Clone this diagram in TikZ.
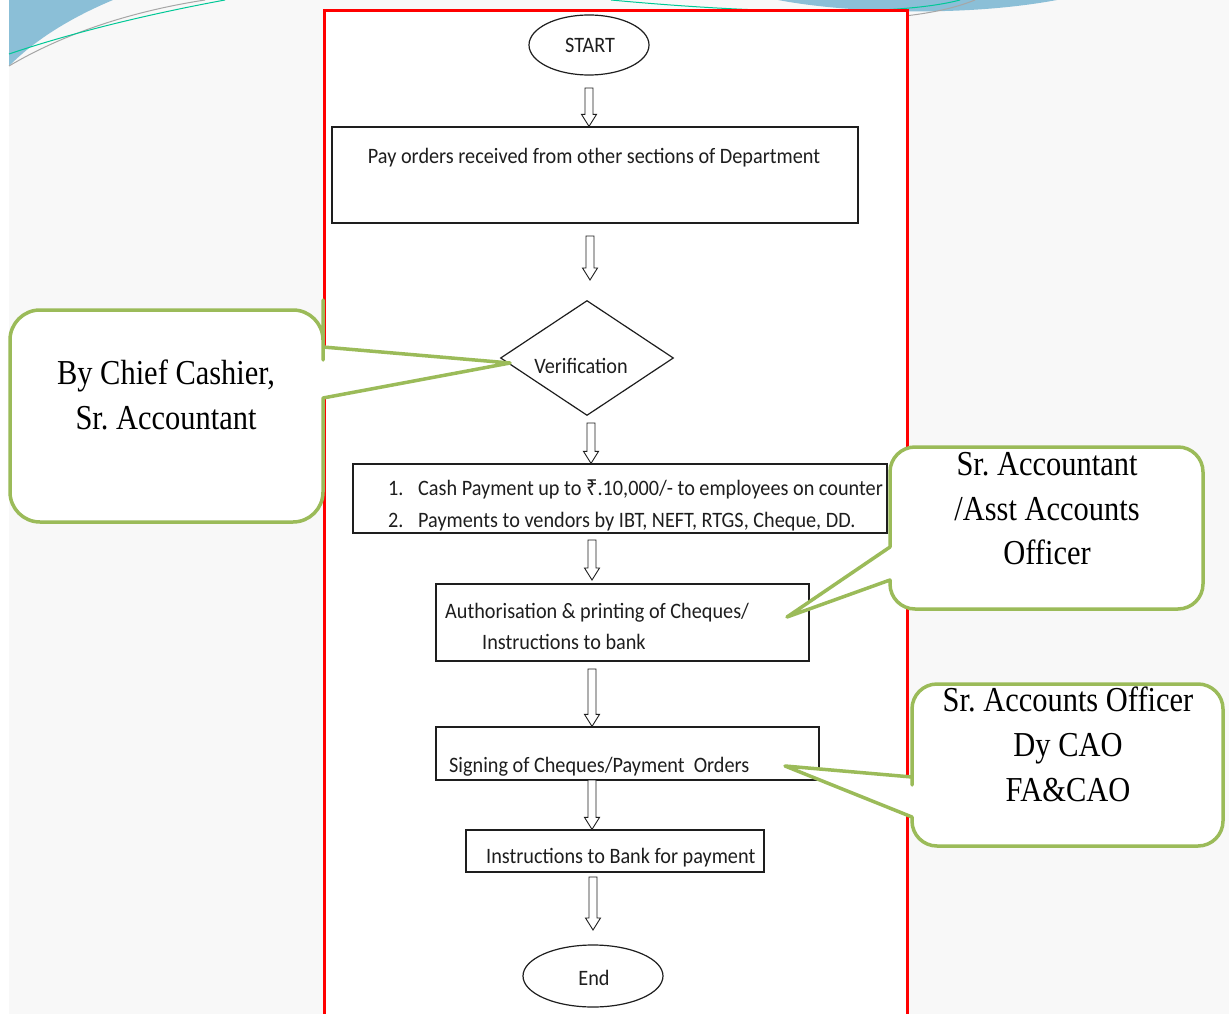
\documentclass[tikz,border=0pt]{standalone}
\usepackage{fontspec}
\setmainfont[FakeStretch=0.92]{Carlito}
\newfontfamily\calfont[FakeStretch=0.87]{Liberation Serif}
\newfontfamily\rupfont[FakeStretch=0.92]{Noto Sans}
\usetikzlibrary{shapes.geometric,calc}
\definecolor{bgray}{RGB}{248,248,248}
\definecolor{decoblue}{RGB}{139,191,215}
\definecolor{decogreen}{RGB}{0,200,150}
\definecolor{callgreen}{RGB}{155,187,89}
\definecolor{ink}{RGB}{30,30,30}
\newcommand\blockarr[2]{\path[blockarrow] let \p1=(#1), \p2=(#2) in
  (\x1-4pt,\y1) -- (\x1+4pt,\y1) -- (\x1+4pt,\y2+12pt) -- (\x1+7.5pt,\y2+12pt)
  -- (\x1,\y2) -- (\x1-7.5pt,\y2+12pt) -- (\x1-4pt,\y2+12pt) -- cycle;}
\frenchspacing
\begin{document}
\begin{tikzpicture}[x=1pt,y=-1pt,
  flow/.style={draw=ink, line width=1.2pt, fill=white},
  ftext/.style={font=\fontsize{22}{26}\selectfont, text=ink, inner sep=0pt},
  ctext/.style={font=\calfont\fontsize{35}{45}\selectfont, text=black, inner sep=0pt, anchor=base},
  callout/.style={draw=callgreen, line width=3.5pt, fill=white, line join=round},
  blockarrow/.style={draw=ink, line width=0.9pt, fill=white},
]
\useasboundingbox (0,0) rectangle (1229,1014);
\fill[bgray] (0,0) rectangle (1229,1014);
\fill[white] (0,0) rectangle (9,1014);
% decoration
\fill[decoblue] (9,0) -- (9,66) .. controls (35,40) and (70,18) .. (113,0) -- cycle;
\draw[gray!70, line width=1pt] (9,66) .. controls (70,30) and (140,10) .. (205,0);
\draw[decogreen, line width=1pt] (9,54) .. controls (80,30) and (160,12) .. (225,0);
\fill[decoblue] (778,0) .. controls (840,12) and (960,18) .. (1057,0) -- cycle;
\draw[decogreen, line width=1pt] (611,0) .. controls (760,14) and (900,16) .. (960,0);
\draw[gray!70, line width=1pt] (860,20) .. controls (920,16) and (950,10) .. (975,0);
% panel
\fill[white] (324,10) rectangle (908,1020);
\draw[red, line width=3pt] (324.5,1020) -- (324.5,10.5) -- (907.5,10.5) -- (907.5,1020);
% flow nodes
\node[flow, ellipse, minimum width=120pt, minimum height=60pt, inner sep=0pt] (start) at (589,45) {};
\node[ftext, anchor=base] (tstart) at (590,53) {START};
\node[flow, rectangle, minimum width=526pt, minimum height=96pt] (box1) at (595,175) {};
\node[ftext, anchor=base] (t1) at (594,164) {Pay orders received from other sections of Department};
\node[flow, diamond, aspect=1.5, minimum width=173pt, minimum height=115pt, inner sep=0pt] (ver) at (587,358) {};
\node[ftext, anchor=base] (tver) at (581,373) {Verification};
\node[flow, rectangle, minimum width=534pt, minimum height=69pt] (box3) at (620,498.5) {};
\node[ftext, anchor=base west] (t3a) at (388,495) {\makebox[30pt][l]{1.}Cash Payment up to {\rupfont ₹}.10,000/- to employees on counter};
\node[ftext, anchor=base west] (t3b) at (388,527) {\makebox[30pt][l]{2.}Payments to vendors by IBT, NEFT, RTGS, Cheque, DD.};
\node[flow, rectangle, minimum width=373pt, minimum height=77pt] (box4) at (622.5,622.5) {};
\node[ftext, anchor=base west] (t4a) at (445,618) {Authorisation \& printing of Cheques/};
\node[ftext, anchor=base west] (t4b) at (482,649) {Instructions to bank};
\node[flow, rectangle, minimum width=383pt, minimum height=53pt] (box5) at (627.5,753.5) {};
\node[ftext, anchor=base west] (t5) at (449,772) {Signing of Cheques/Payment~ Orders};
\node[flow, rectangle, minimum width=298pt, minimum height=42pt] (box6) at (615,851) {};
\node[ftext, anchor=base west] (t6) at (486,863) {Instructions to Bank for payment};
\node[flow, ellipse, minimum width=140pt, minimum height=62pt, inner sep=0pt] (end) at (593,976) {};
\node[ftext, anchor=base] (tend) at (594,985) {End};
% arrows
\coordinate (a1s) at (589,88);
\coordinate (a2s) at (590,236);
\coordinate (a2e) at (590,280);
\coordinate (a3s) at (591,423);
\coordinate (a4s) at (592,540);
\coordinate (a4e) at (592,580);
\coordinate (a5s) at (592,669);
\coordinate (a6s) at (592,780);
\coordinate (a7s) at (593,877);
\coordinate (a7e) at (593,930);
\blockarr{a1s}{a1s |- box1.north}
\blockarr{a2s}{a2e}
\blockarr{a3s}{a3s |- box3.north}
\blockarr{a4s}{a4e}
\blockarr{a5s}{a5s |- box5.north}
\blockarr{a6s}{a6s |- box6.north}
\blockarr{a7s}{a7e}
% callouts
\draw[callout] (323,330) -- (323,347) -- (510,363) -- (323,398) -- (323,420)
  [rounded corners=30pt] -- (323,522) -- (10,522) -- (10,310) -- (323,310) -- cycle;
\node[ctext] (c1a) at (166,384) {By Chief Cashier,};
\node[ctext] (c1b) at (166,429) {Sr. Accountant};
\draw[callout] (890,520) -- (890,547) -- (787,617) -- (890,580) -- (890,582)
  [rounded corners=25pt] -- (890,609) -- (1203,609) -- (1203,447) -- (890,447) -- cycle;
\node[ctext] (c2a) at (1047,475) {Sr. Accountant};
\node[ctext] (c2b) at (1047,520) {/Asst Accounts};
\node[ctext] (c2c) at (1047,564) {Officer};
\draw[callout] (912,760) -- (912,777) -- (785,766) -- (912,817) -- (912,819)
  [rounded corners=25pt] -- (912,846) -- (1223,846) -- (1223,684) -- (912,684) -- cycle;
\node[ctext] (c3a) at (1068,711) {Sr. Accounts Officer};
\node[ctext] (c3b) at (1068,756) {Dy CAO};
\node[ctext] (c3c) at (1068,801) {FA\&CAO};
\end{tikzpicture}
\end{document}
